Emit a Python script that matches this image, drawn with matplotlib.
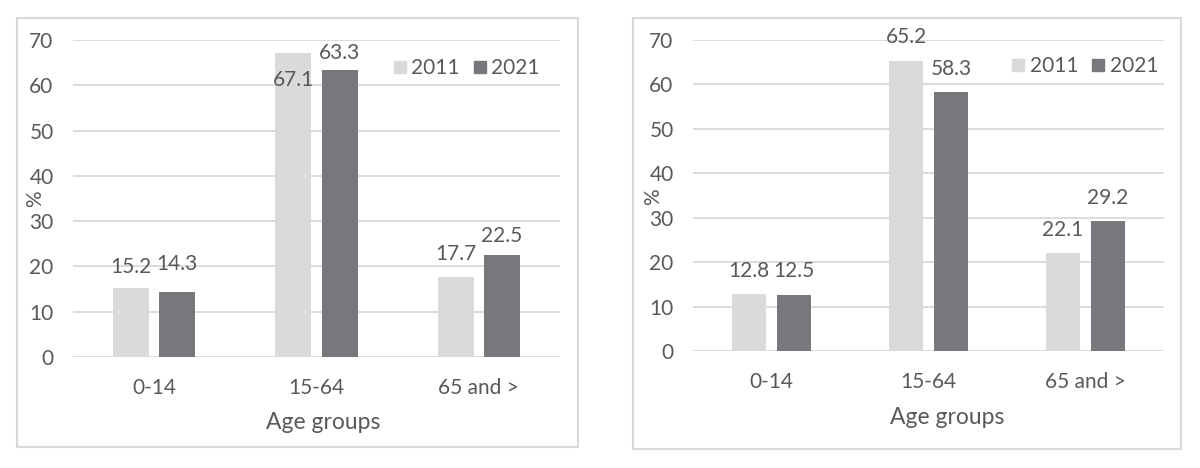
import numpy as np
import matplotlib
matplotlib.use("Agg")
import matplotlib.pyplot as plt
from matplotlib.patches import Rectangle
from matplotlib.lines import Line2D

age_groups = ['0-14', '15-64', '65 and >']
years = ['2011', '2021']
left_2011 = [15.2, 67.1, 17.7]
left_2021 = [14.3, 63.3, 22.5]
right_2011 = [12.8, 65.2, 22.1]
right_2021 = [12.5, 58.3, 29.2]

LIGHT = '#D9DADC'
DARK = '#77787C'
GRID = '#D9D9D9'
TEXT = '#595959'
FS = 15

plt.rcParams['font.family'] = ['Lato', 'DejaVu Sans']
plt.rcParams['text.color'] = TEXT


def draw_panel(ax, vals_a, vals_b, label_shift, leg_anchor, ylab_xy, xlab_xy):
    x = np.arange(len(age_groups))
    width = 0.222
    off = 0.143
    ba = ax.bar(x - off, vals_a, width, color=LIGHT, zorder=2)
    bb = ax.bar(x + off, vals_b, width, color=DARK, zorder=2)
    for bars, vals, shifts in [(ba, vals_a, label_shift[0]), (bb, vals_b, label_shift[1])]:
        for rect, v, s in zip(bars, vals, shifts):
            ax.annotate(f'{v:.1f}', (rect.get_x() + rect.get_width() / 2, v),
                        xytext=(0, s), textcoords='offset pixels',
                        ha='center', va='center', fontsize=FS, color=TEXT)
    ax.set_ylim(0, 70)
    ax.set_xlim(-0.5, 2.5)
    ax.set_yticks(range(0, 71, 10))
    ax.set_xticks(x, age_groups)
    ax.grid(axis='y', color=GRID, linewidth=1.3, zorder=0)
    ax.set_axisbelow(True)
    for sp in ax.spines.values():
        sp.set_visible(False)
    ax.tick_params(axis='both', length=0, labelsize=FS, labelcolor=TEXT)
    ax.tick_params(axis='y', pad=14)
    ax.tick_params(axis='x', pad=15)
    ax.set_ylabel('%', fontsize=FS, color=TEXT)
    ax.yaxis.set_label_coords(*ylab_xy)
    ax.yaxis.label.set_va('center')
    ax.set_xlabel('Age groups', fontsize=16.5, color=TEXT)
    ax.xaxis.set_label_coords(*xlab_xy)
    ax.xaxis.label.set_va('center')
    handles = [Line2D([], [], marker='s', linestyle='none', markersize=9,
                      markerfacecolor=c, markeredgecolor=c) for c in (LIGHT, DARK)]
    ax.legend(handles, years, loc='upper right', bbox_to_anchor=leg_anchor, ncol=2,
              frameon=False, fontsize=FS, handlelength=0.7, handletextpad=0.2,
              columnspacing=0.6, borderaxespad=0, labelcolor=TEXT)


fig = plt.figure(figsize=(12, 4.68), dpi=100)
W, H = 1200, 468

# panel borders
for x0, x1, y0, y1 in [(17, 578, 18, 447), (633, 1181, 18, 449)]:
    fig.add_artist(Rectangle((x0 / W, 1 - y1 / H), (x1 - x0) / W, (y1 - y0) / H,
                             transform=fig.transFigure, fill=False,
                             edgecolor=GRID, linewidth=1.5))

ax1 = fig.add_axes([73 / W, 1 - 357 / H, 487 / W, 317 / H])
ax2 = fig.add_axes([693 / W, 1 - 351 / H, 471 / W, 311 / H])

draw_panel(ax1, left_2011, left_2021,
           ([21, -27, 23], [28, 17, 19]),
           (0.975, 0.97), (-0.078, 0.498), (0.513, -0.208))
draw_panel(ax2, right_2011, right_2021,
           ([23, 24, 23], [24, 23, 23]),
           (1.005, 0.975), (-0.085, 0.495), (0.54, -0.215))

fig.savefig('out.png', dpi=100)
